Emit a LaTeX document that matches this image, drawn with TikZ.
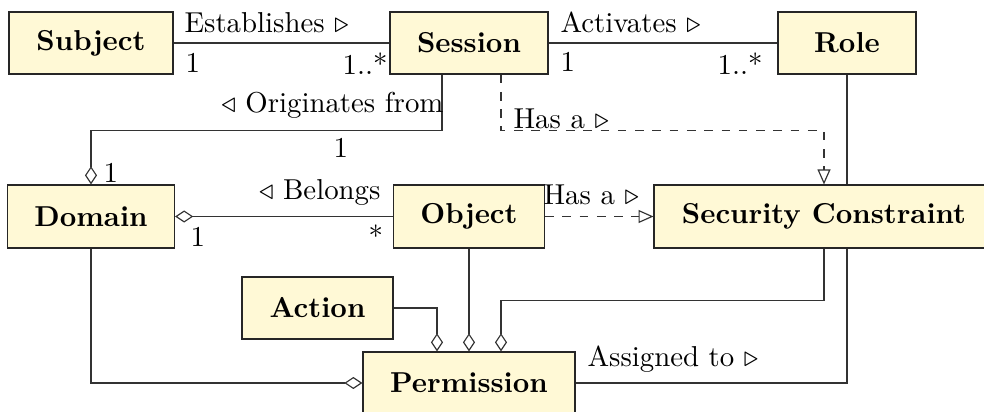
\documentclass[tikz,border=0pt]{standalone}
\usetikzlibrary{arrows.meta,calc}
\definecolor{boxfill}{RGB}{255,249,214}
\begin{document}
\begin{tikzpicture}[x=0.3472pt,y=-0.3472pt,
  cls/.style={draw=black!85, fill=boxfill, font=\bfseries, inner sep=0pt, minimum height=21.53pt, line width=0.4pt},
  lbl/.style={inner sep=0pt},
  conn/.style={draw=black!80, line width=0.4pt},
  agg/.style={-{Diamond[open,length=6.3pt,width=4.2pt]}},
  aggs/.style={{Diamond[open,length=6.3pt,width=4.2pt]}-},
  real/.style={dashed,-{Triangle[open,length=5.2pt,width=4.5pt]}}]
\useasboundingbox (0,0) rectangle (984,412);

% classes
\node[cls, minimum width=56.94pt] (subject) at (91,43) {Subject};
\node[cls, minimum width=54.86pt] (session) at (469,43) {Session};
\node[cls, minimum width=47.91pt] (role) at (847,43) {Role};
\node[cls, minimum width=57.98pt, minimum height=21.87pt] (domain) at (91,216.5) {Domain};
\node[cls, minimum width=52.43pt, minimum height=21.87pt] (object) at (469,216.5) {Object};
\node[cls, minimum width=118.0pt, minimum height=21.87pt] (sc) at (824,216.5) {Security Constraint};
\node[cls, minimum width=52.43pt] (action) at (317.5,308) {Action};
\node[cls, minimum width=73.6pt] (permission) at (469,383) {Permission};

% connectors
\draw[conn] (subject.east) -- (session.west);
\draw[conn] (session.east) -- (role.west);
\draw[conn,agg] ($(session.south)+(-27,0)$) -- ++(0,56) -| (domain.north);
\draw[conn,real] ($(session.south)+(32,0)$) -- ++(0,56) -| (sc.north);
\draw[conn] (role.south) -- (role.south |- sc.north);
\draw[conn,aggs] (domain.east) -- (object.west);
\draw[conn,real] (object.east) -- (sc.west);
\draw[conn,agg] (object.south) -- (permission.north);
\draw[conn,agg] (action.east) -| ($(permission.north)+(-32,0)$);
\draw[conn,agg] (sc.south) -- ++(0,52) -| ($(permission.north)+(32,0)$);
\draw[conn,agg] (domain.south) |- (permission.west);
\draw[conn] (permission.east) -| ($(sc.south)+(23,0)$);

% labels
\node[lbl, anchor=base west] (l1) at (184,33) {Establishes $\triangleright$};
\node[lbl, anchor=base west] (m1) at (185,73) {1};
\node[lbl, anchor=base east] (m2) at (388,75) {1..*};
\node[lbl, anchor=base west] (l2) at (560,33) {Activates $\triangleright$};
\node[lbl, anchor=base west] (m3) at (560,72) {1};
\node[lbl, anchor=base east] (m4) at (763,75) {1..*};
\node[lbl, anchor=base east] (l3) at (444,113) {$\triangleleft$ Originates from};
\node[lbl, anchor=base west] (m5) at (333,158) {1};
\node[lbl, anchor=base west] (m6) at (103,183) {1};
\node[lbl, anchor=base west] (l4) at (513,129) {Has a $\triangleright$};
\node[lbl, anchor=base east] (l5) at (381,200) {$\triangleleft$ Belongs};
\node[lbl, anchor=base west] (m7) at (190,247) {1};
\node[lbl, anchor=base west] (m8) at (368,247) {*};
\node[lbl, anchor=base west] (l6) at (543,205) {Has a $\triangleright$};
\node[lbl, anchor=base west] (l7) at (587,367) {Assigned to $\triangleright$};
\end{tikzpicture}
\end{document}
